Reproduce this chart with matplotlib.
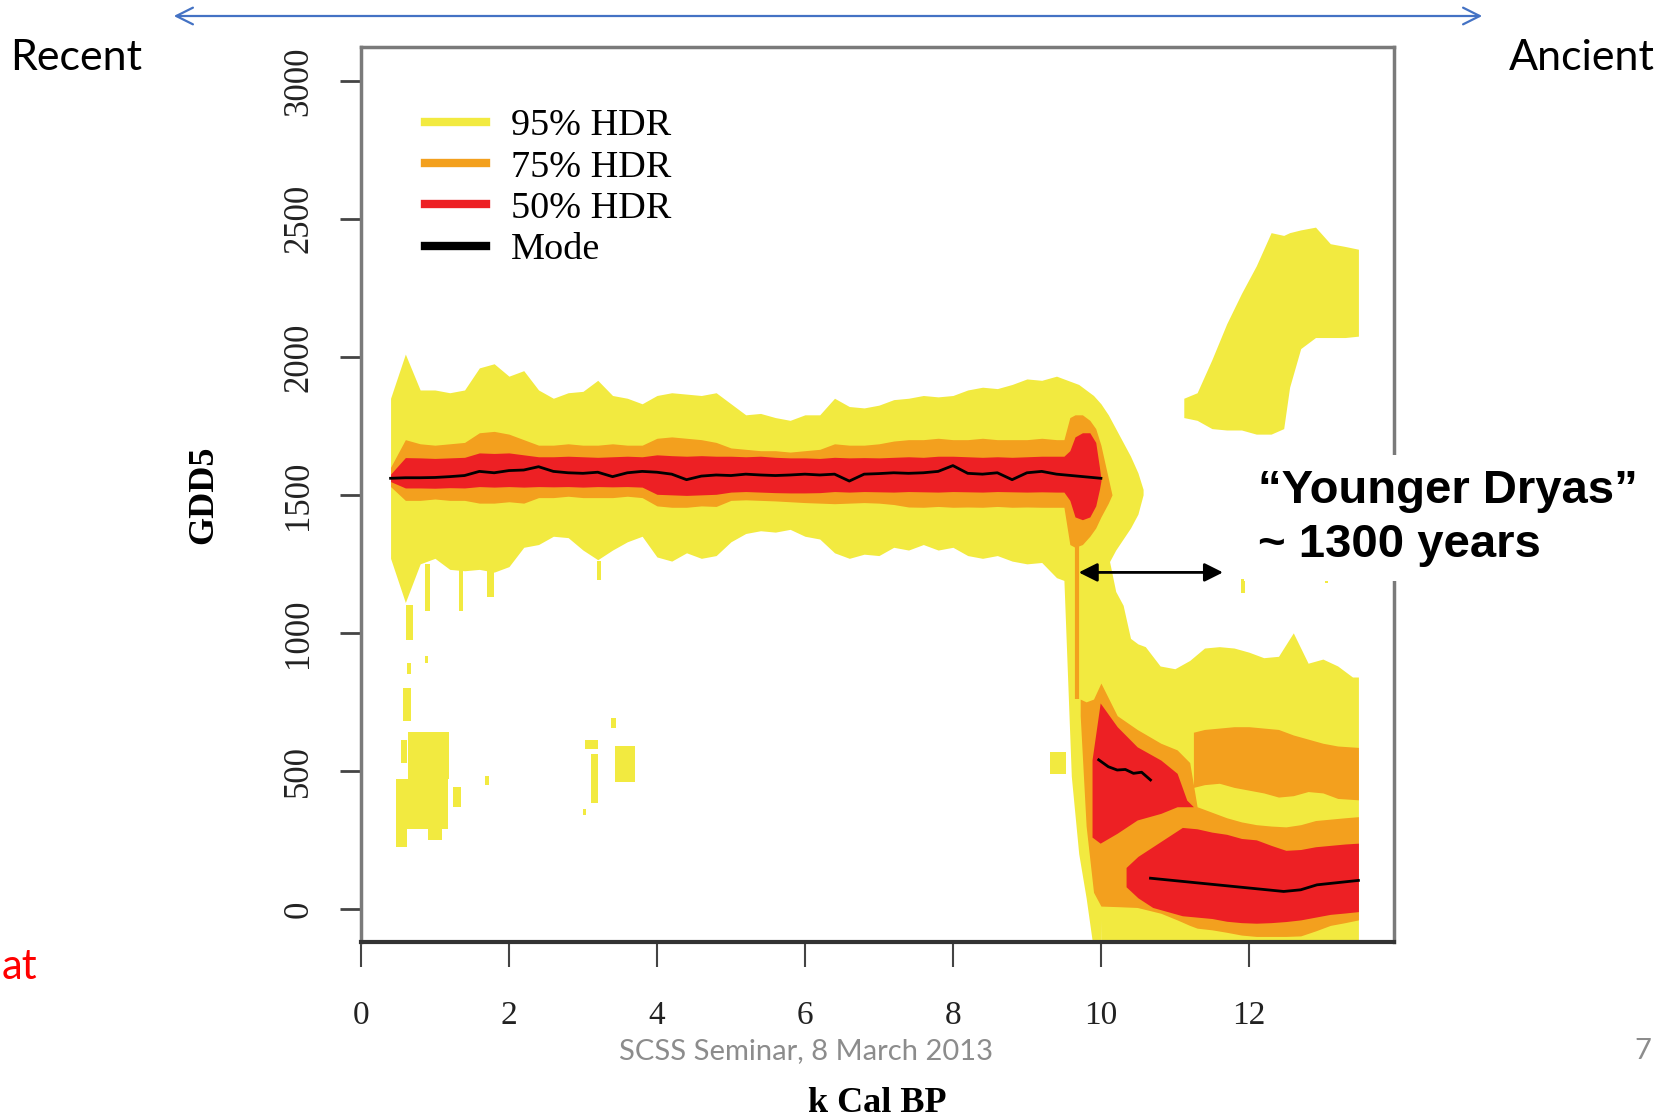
#!/usr/bin/env python3
"""GDD5 HDR reconstruction slide"""
import matplotlib
matplotlib.use("Agg")
import matplotlib.pyplot as plt
from matplotlib.lines import Line2D

# ---- data (k cal BP, GDD5) ----
x_main = [0.4, 0.6, 0.8, 1.0, 1.2, 1.4, 1.6, 1.8, 2.0, 2.2, 2.4, 2.6, 2.8, 3.0,
          3.2, 3.4, 3.6, 3.8, 4.0, 4.2, 4.4, 4.6, 4.8, 5.0, 5.2, 5.4, 5.6, 5.8,
          6.0, 6.2, 6.4, 6.6, 6.8, 7.0, 7.2, 7.4, 7.6, 7.8, 8.0, 8.2, 8.4, 8.6,
          8.8, 9.0, 9.2, 9.4]

# 95% HDR, main band up to the drop
x95 = x_main + [9.5, 9.6, 9.7, 9.8, 9.9, 10.0, 10.1, 10.2, 10.3, 10.4, 10.5, 10.57]
hi95 = [1850, 2010, 1880, 1880, 1870, 1880, 1960, 1975, 1930, 1950, 1880, 1850,
        1870, 1875, 1915, 1860, 1850, 1830, 1860, 1870, 1865, 1860, 1870, 1830,
        1790, 1795, 1780, 1770, 1790, 1790, 1850, 1820, 1815, 1825, 1845, 1850,
        1860, 1855, 1860, 1880, 1890, 1885, 1900, 1920, 1915, 1930,
        1920, 1910, 1900, 1880, 1860, 1830, 1790, 1740, 1690, 1640, 1580, 1520]
lo95 = [1270, 1110, 1250, 1270, 1230, 1225, 1230, 1220, 1240, 1310, 1320, 1350,
        1345, 1300, 1265, 1300, 1330, 1350, 1275, 1260, 1290, 1270, 1280, 1330,
        1360, 1370, 1365, 1375, 1350, 1340, 1290, 1270, 1285, 1280, 1310, 1300,
        1320, 1300, 1310, 1280, 1270, 1280, 1260, 1250, 1255, 1200,
        1190, 480, 200, 40, -150, -150, 1250, 1300, 1340, 1380, 1430, 1500]

# 95% HDR, Younger Dryas part
x95_low = [10.0, 10.1, 10.2, 10.3, 10.4, 10.5, 10.6, 10.8, 11.0, 11.2, 11.4,
           11.6, 11.8, 12.0, 12.2, 12.4, 12.6, 12.8, 13.0, 13.2, 13.4, 13.48]
hi95_low = [1300, 1280, 1150, 1100, 980, 960, 950, 880, 870, 900, 945,
            950, 945, 930, 910, 915, 1000, 890, 905, 880, 840, 840]
lo95_low = [-150, -150, -150, -150, -150, -150, -150, -150, -150, -150, -150,
            -150, -150, -150, -150, -150, -150, -150, -150, -150, -150, -150]

# upper 95% patch at the end of the record
x95_up = [11.12, 11.3, 11.5, 11.7, 11.9, 12.1, 12.3, 12.47, 12.55, 12.7, 12.9,
          13.1, 13.3, 13.48]
hi95_up = [1850, 1870, 1990, 2120, 2230, 2330, 2450, 2440, 2450, 2460, 2470,
           2410, 2400, 2390]
lo95_up = [1780, 1770, 1740, 1735, 1735, 1720, 1720, 1740, 1890, 2030, 2070,
           2070, 2070, 2075]

# scattered 95% specks: centre, width, low, high
speck_x = [0.66, 0.9, 0.65, 0.88, 0.62, 0.58, 0.915, 0.82, 0.55, 1.0, 1.3, 1.7,
           1.35, 1.75, 3.12, 3.16, 3.57, 3.41, 3.02, 3.22, 9.42, 11.92, 13.05]
speck_w = [0.10, 0.06, 0.05, 0.04, 0.10, 0.08, 0.55, 0.70, 0.14, 0.20, 0.10, 0.05,
           0.06, 0.10, 0.18, 0.10, 0.28, 0.06, 0.04, 0.06, 0.22, 0.05, 0.04]
speck_lo = [975, 1080, 850, 890, 680, 530, 470, 290, 225, 250, 370, 450,
            1080, 1130, 580, 385, 460, 655, 340, 1190, 490, 1145, 1180]
speck_hi = [1100, 1250, 890, 915, 800, 610, 640, 470, 290, 290, 440, 480,
            1230, 1230, 612, 560, 590, 690, 362, 1260, 570, 1195, 1200]

# 75% HDR
x75 = x_main + [9.5, 9.58, 9.65, 9.75, 9.85, 9.93, 10.0, 10.1, 10.15]
hi75 = [1600, 1700, 1685, 1680, 1685, 1690, 1725, 1730, 1720, 1700, 1680, 1680,
        1685, 1680, 1680, 1685, 1680, 1680, 1705, 1710, 1705, 1700, 1690, 1670,
        1665, 1660, 1660, 1655, 1660, 1665, 1685, 1680, 1680, 1685, 1695, 1700,
        1700, 1705, 1700, 1700, 1705, 1700, 1700, 1700, 1705, 1700,
        1700, 1780, 1790, 1790, 1770, 1740, 1680, 1560, 1500]
lo75 = [1530, 1480, 1480, 1485, 1480, 1480, 1470, 1470, 1475, 1470, 1490, 1490,
        1495, 1490, 1490, 1490, 1495, 1490, 1460, 1455, 1455, 1460, 1458, 1480,
        1482, 1480, 1478, 1475, 1472, 1470, 1468, 1470, 1472, 1470, 1465, 1456,
        1455, 1458, 1455, 1456, 1455, 1458, 1455, 1456, 1455, 1455,
        1455, 1320, 1310, 1320, 1350, 1380, 1420, 1470, 1500]
ridge_x = [9.68]
ridge_lo = [760]
ridge_hi = [1320]
x75_low = [9.72, 9.8, 9.9, 10.0, 10.22, 10.49, 10.81, 11.03, 11.2, 11.3, 11.5,
           11.7, 11.9, 12.1, 12.3, 12.5, 12.7, 12.9, 13.1, 13.3, 13.48]
hi75_low = [760, 750, 760, 818, 700, 650, 600, 576, 530, 370, 350,
            330, 315, 305, 300, 297, 305, 320, 325, 330, 334]
lo75_low = [700, 300, 60, 10, 8, 5, -16, -40, -60, -70, -76,
            -85, -95, -100, -100, -100, -98, -80, -60, -50, -40]
x75_up = [11.25, 11.4, 11.6, 11.8, 12.0, 12.2, 12.4, 12.6, 12.8, 13.0, 13.2, 13.48]
hi75_up = [640, 650, 655, 660, 660, 655, 650, 630, 615, 600, 590, 585]
lo75_up = [440, 450, 455, 440, 430, 420, 405, 410, 425, 420, 400, 395]

# 50% HDR
x50 = x_main + [9.5, 9.58, 9.65, 9.75, 9.85, 9.93, 9.98, 10.0]
hi50 = [1575, 1635, 1634, 1632, 1634, 1636, 1652, 1650, 1652, 1645, 1638, 1638,
        1640, 1638, 1636, 1638, 1640, 1638, 1645, 1642, 1640, 1642, 1640, 1640,
        1638, 1640, 1636, 1634, 1634, 1632, 1636, 1634, 1635, 1634, 1636, 1638,
        1636, 1640, 1640, 1638, 1636, 1638, 1636, 1638, 1640, 1640,
        1640, 1660, 1710, 1725, 1725, 1690, 1600, 1560]
lo50 = [1548, 1525, 1525, 1524, 1526, 1525, 1530, 1528, 1530, 1528, 1530, 1529,
        1530, 1528, 1530, 1529, 1530, 1528, 1502, 1500, 1498, 1500, 1502, 1510,
        1512, 1510, 1508, 1507, 1507, 1508, 1512, 1510, 1512, 1511, 1510, 1512,
        1511, 1510, 1512, 1511, 1510, 1512, 1511, 1510, 1511, 1510,
        1510, 1480, 1420, 1410, 1420, 1460, 1520, 1550]
x50_a = [9.88, 9.99, 10.22, 10.49, 10.81, 11.03, 11.16, 11.25]
hi50_a = [540, 746, 660, 587, 539, 491, 394, 370]
lo50_a = [260, 238, 274, 322, 346, 370, 370, 370]
x50_b = [10.34, 10.5, 10.7, 10.9, 11.1, 11.3, 11.5, 11.7, 11.9, 12.1, 12.3,
         12.5, 12.7, 12.9, 13.1, 13.3, 13.48]
hi50_b = [150, 190, 225, 260, 295, 290, 278, 270, 255, 250, 230,
          212, 215, 225, 230, 235, 238]
lo50_b = [80, 40, 5, -10, -25, -30, -35, -45, -50, -52, -50,
          -46, -40, -30, -20, -15, -10]

# mode
x_mode = x_main + [9.6, 9.8, 10.0]
mode = [1560, 1562, 1562, 1563, 1566, 1570, 1585, 1580, 1588, 1590, 1602, 1585,
        1580, 1578, 1582, 1566, 1580, 1585, 1582, 1575, 1555, 1568, 1572, 1570,
        1575, 1572, 1570, 1572, 1575, 1572, 1575, 1550, 1575, 1577, 1580, 1578,
        1580, 1585, 1606, 1578, 1575, 1580, 1555, 1580, 1585, 1575,
        1570, 1565, 1560]
x_mode_a = [9.97, 10.1, 10.22, 10.33, 10.44, 10.55, 10.67]
mode_a = [540, 515, 503, 505, 491, 495, 467]
x_mode_b = [10.67, 11.12, 11.57, 12.02, 12.47, 12.7, 12.92, 13.2, 13.48]
mode_b = [111, 99, 87, 75, 63, 69, 87, 95, 103]

x_ticks = [0, 2, 4, 6, 8, 10, 12]
y_ticks = [0, 500, 1000, 1500, 2000, 2500, 3000]
legend_labels = ["95% HDR", "75% HDR", "50% HDR", "Mode"]

YELLOW = "#F2EA40"
ORANGE = "#F3A01E"
RED = "#ED2024"

serif = "Liberation Serif"

fig = plt.figure(figsize=(16.75, 11.17), dpi=100)
ax = fig.add_axes([0.2155, 0.1567, 0.6167, 0.8013])

# bands
ax.fill_between(x95, lo95, hi95, color=YELLOW, lw=0)
ax.fill_between(x95_low, lo95_low, hi95_low, color=YELLOW, lw=0)
ax.fill_between(x95_up, lo95_up, hi95_up, color=YELLOW, lw=0)
ax.bar(speck_x, [h - l for h, l in zip(speck_hi, speck_lo)], width=speck_w,
       bottom=speck_lo, color=YELLOW, linewidth=0)
ax.fill_between(x75, lo75, hi75, color=ORANGE, lw=0)
ax.vlines(ridge_x, ridge_lo, ridge_hi, color=ORANGE, lw=3)
ax.fill_between(x75_low, lo75_low, hi75_low, color=ORANGE, lw=0)
ax.fill_between(x75_up, lo75_up, hi75_up, color=ORANGE, lw=0)
ax.fill_between(x50, lo50, hi50, color=RED, lw=0)
ax.fill_between(x50_a, lo50_a, hi50_a, color=RED, lw=0)
ax.fill_between(x50_b, lo50_b, hi50_b, color=RED, lw=0)
ax.plot(x_mode, mode, color="black", lw=2)
ax.plot(x_mode_a, mode_a, color="black", lw=2)
ax.plot(x_mode_b, mode_b, color="black", lw=2)

ax.set_xlim(0, 13.96)
ax.set_ylim(-120, 3123)

# R-like box and axes
for side in ["left", "top", "right"]:
    ax.spines[side].set_color("#7a7a7a")
    ax.spines[side].set_linewidth(2.5)
ax.spines["bottom"].set_color("#333333")
ax.spines["bottom"].set_linewidth(3)

ax.set_xticks(x_ticks)
ax.set_xticklabels([str(t) for t in x_ticks], fontsize=24, family=serif)
ax.set_yticks(y_ticks)
ax.set_yticklabels([str(t) for t in y_ticks], fontsize=25, family=serif,
                   rotation=90, va="center")
ax.tick_params(axis="x", length=18, width=1.5, color="#444444", pad=24,
               labelcolor="#222222")
ax.tick_params(axis="y", length=15, width=2, color="#444444", pad=18,
               labelcolor="#222222")

ax.set_xlabel("k Cal BP", fontsize=26, family=serif, fontweight="bold",
              va="center")
ax.xaxis.set_label_coords(0.5, -0.18)
ax.set_ylabel("GDD5", fontsize=26, family=serif, fontweight="bold",
              va="center")
ax.yaxis.set_label_coords(-0.152, 0.5)

handles = [Line2D([], [], color=c, lw=6) for c in [YELLOW, ORANGE, RED, "black"]]
ax.legend(handles, legend_labels, loc="upper left", bbox_to_anchor=(0.062, 0.931),
          frameon=False, borderaxespad=0, borderpad=0, handlelength=1.6,
          handletextpad=0.65, labelspacing=0.17,
          prop={"family": serif, "size": 27.5})

# Younger Dryas annotation
ax.annotate("", xy=(9.70, 1219), xytext=(11.65, 1219),
            arrowprops=dict(arrowstyle="<|-|>", color="black", lw=2,
                            mutation_scale=28, shrinkA=0, shrinkB=0))
fig.text(1258 / 1675, 1 - 518 / 1117, "\u201cYounger Dryas\u201d\n~ 1300 years",
         fontsize=34, fontweight="bold", family="Liberation Sans",
         ha="left", va="center", linespacing=1.32,
         bbox=dict(facecolor="white", edgecolor="none", pad=10))

# slide decorations
fig.patches.append(matplotlib.patches.FancyArrowPatch(
    (171 / 1675, 1 - 16 / 1117), (1485 / 1675, 1 - 16 / 1117),
    transform=fig.transFigure, arrowstyle="<->", color="#4472C4", lw=1.6,
    mutation_scale=30))
fig.text(10 / 1675, 1 - 58 / 1117, "Recent", fontsize=31, family="Lato",
         ha="left", va="center")
fig.text(1655 / 1675, 1 - 58 / 1117, "Ancient", fontsize=31, family="Lato",
         ha="right", va="center")
fig.text(2 / 1675, 1 - 967 / 1117, "at", fontsize=30, family="Lato",
         color="red", ha="left", va="center")
fig.text(806 / 1675, 1 - 1051 / 1117, "SCSS Seminar, 8 March 2013", fontsize=21,
         family="Lato", color="#8c8c8c", ha="center", va="center")
fig.text(1643 / 1675, 1 - 1051 / 1117, "7", fontsize=21, family="Lato",
         color="#8c8c8c", ha="center", va="center")

fig.savefig("out.png", dpi=100)
